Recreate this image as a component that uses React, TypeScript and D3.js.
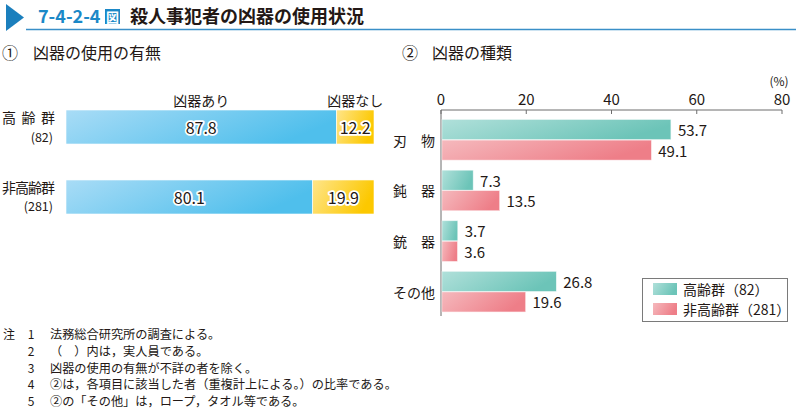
import React from "react";
import * as d3 from "d3";

const groups1 = ["高齢群", "非高齢群"];
const counts1 = ["(82)", "(281)"];
const useYes = [87.8, 80.1];
const useNo = [12.2, 19.9];

const categories2 = ["刃　物", "鈍　器", "銃　器", "その他"];
const elderly = [53.7, 7.3, 3.7, 26.8];
const nonElderly = [49.1, 13.5, 3.6, 19.6];
const ticks2 = [0, 20, 40, 60, 80];
const legendLabels = ["高齢群（82）", "非高齢群（281）"];

const notes = [
  "法務総合研究所の調査による。",
  "（　）内は，実人員である。",
  "凶器の使用の有無が不詳の者を除く。",
  "②は，各項目に該当した者（重複計上による。）の比率である。",
  "②の「その他」は，ロープ，タオル等である。",
];

const FONT = "'Noto Sans CJK JP', 'Noto Sans', sans-serif";

export default function App() {
  const x1 = d3.scaleLinear().domain([0, 100]).range([66, 374]);
  const y1 = d3.scaleBand().domain(groups1).range([89, 235]).paddingInner(0.514).paddingOuter(0.3);

  const x2 = d3.scaleLinear().domain([0, 80]).range([441, 782]);
  const y2 = d3.scaleBand().domain(categories2).range([114.5, 317]).paddingInner(0.2).paddingOuter(0.1);
  const sub = d3.scaleBand().domain(["e", "n"]).range([0, y2.bandwidth()]).paddingInner(0.03);

  const halo = (t: string, x: number, y: number, key: string) => (
    <g key={key}>
      <text x={x} y={y} textAnchor="middle" dominantBaseline="central" fontSize={16}
        stroke="#fff" strokeWidth={3.5} strokeLinejoin="round" fill="#fff">{t}</text>
      <text x={x} y={y} textAnchor="middle" dominantBaseline="central" fontSize={16} fill="#231815">{t}</text>
    </g>
  );

  return (
    <svg width={796} height={416} style={{ position: "absolute", left: 0, top: 0, fontFamily: FONT }}>
      <defs>
        <linearGradient id="gBlue" x1="0" y1="0" x2="1" y2="0.3">
          <stop offset="0" stopColor="#a9dcf6" />
          <stop offset="1" stopColor="#4fbfec" />
        </linearGradient>
        <linearGradient id="gYellow" x1="0" y1="0" x2="1" y2="0.3">
          <stop offset="0" stopColor="#ffe58a" />
          <stop offset="1" stopColor="#fcc800" />
        </linearGradient>
        <linearGradient id="gTeal" x1="0" y1="0" x2="1" y2="0.3">
          <stop offset="0" stopColor="#b0e0da" />
          <stop offset="1" stopColor="#6cc4b8" />
        </linearGradient>
        <linearGradient id="gPink" x1="0" y1="0" x2="1" y2="0.3">
          <stop offset="0" stopColor="#f5b9bd" />
          <stop offset="1" stopColor="#ee7e88" />
        </linearGradient>
      </defs>
      <rect width={796} height={416} fill="#fff" />

      {/* Title */}
      <polygon points="6,4 24,17.5 6,31" fill="#1b7fbd" />
      <line x1={26} y1={29.5} x2={796} y2={29.5} stroke="#3a8fc8" strokeWidth={1.5} />
      <text x={38} y={23} fontSize={18} fontWeight="bold" fill="#1b88c7">7-4-2-4</text>
      <rect x={105} y={9} width={15} height={15} fill="#1b88c7" />
      <text x={112.5} y={21.5} fontSize={13} fontWeight="bold" fill="#fff" textAnchor="middle">図</text>
      <text x={130} y={23} fontSize={18} fontWeight="bold" fill="#231815">殺人事犯者の凶器の使用状況</text>

      {/* Section headings */}
      <text x={2} y={59} fontSize={16} fill="#231815">①</text>
      <text x={33} y={59} fontSize={16} fill="#231815">凶器の使用の有無</text>
      <text x={402} y={59} fontSize={16} fill="#231815">②</text>
      <text x={432} y={59} fontSize={16} fill="#231815">凶器の種類</text>

      {/* Left chart */}
      <text x={(x1(0) + x1(useYes[0])) / 2} y={100} dominantBaseline="central" fontSize={14} textAnchor="middle" fill="#231815">凶器あり</text>
      <text x={(x1(useYes[0]) + x1(100)) / 2} y={100} dominantBaseline="central" fontSize={14} textAnchor="middle" fill="#231815">凶器なし</text>
      {groups1.map((g, i) => {
        const y = y1(g)!;
        const h = y1.bandwidth();
        return (
          <g key={g}>
            <rect x={x1(0)} y={y} width={x1(useYes[i]) - x1(0)} height={h} fill="url(#gBlue)" stroke="#ffffff" strokeWidth={0.6} />
            <rect x={x1(useYes[i])} y={y} width={x1(useYes[i] + useNo[i]) - x1(useYes[i])} height={h} fill="url(#gYellow)" stroke="#ffffff" strokeWidth={0.6} />
            {halo(String(useYes[i]), (x1(0) + x1(useYes[i])) / 2, y + h / 2, "a")}
            {halo(String(useNo[i]), (x1(useYes[i]) + x1(100)) / 2, y + h / 2, "b")}
            <text x={2} y={y + h / 2 - 10} dominantBaseline="central" fontSize={14} textLength={53} lengthAdjust="spacing" fill="#231815">{g}</text>
            <text x={53} y={y + h / 2 + 9} dominantBaseline="central" fontSize={12.5} textAnchor="end" fill="#231815">{counts1[i]}</text>
          </g>
        );
      })}

      {/* Right chart axis */}
      <line x1={x2(0)} y1={110} x2={x2(80)} y2={110} stroke="#6d6d6d" strokeWidth={1} />
      <line x1={x2(0)} y1={110} x2={x2(0)} y2={316} stroke="#6d6d6d" strokeWidth={1} />
      {ticks2.map((t) => (
        <g key={t}>
          <line x1={x2(t)} y1={110} x2={x2(t)} y2={114} stroke="#6d6d6d" strokeWidth={1} />
          <text x={x2(t)} y={105} fontSize={15} textAnchor="middle" fill="#231815">{t}</text>
        </g>
      ))}
      <text x={x2(80) - 3} y={86} fontSize={12} textAnchor="middle" fill="#231815">(%)</text>

      {categories2.map((c, i) => {
        const y = y2(c)!;
        const h = sub.bandwidth();
        const ye = y + sub("e")!;
        const yn = y + sub("n")!;
        return (
          <g key={c}>
            <rect x={x2(0) + 1} y={ye} width={x2(elderly[i]) - x2(0)} height={h} fill="url(#gTeal)" stroke="#e9f6f4" strokeWidth={0.5} />
            <rect x={x2(0) + 1} y={yn} width={x2(nonElderly[i]) - x2(0)} height={h} fill="url(#gPink)" stroke="#fbe6e8" strokeWidth={0.5} />
            <text x={x2(elderly[i]) + 8} y={ye + h / 2} dominantBaseline="central" fontSize={15} fill="#231815">{elderly[i]}</text>
            <text x={x2(nonElderly[i]) + 8} y={yn + h / 2} dominantBaseline="central" fontSize={15} fill="#231815">{nonElderly[i]}</text>
            <text x={435} y={y + y2.bandwidth() / 2} dominantBaseline="central" fontSize={14} textAnchor="end" fill="#231815">{c}</text>
          </g>
        );
      })}

      {/* Legend */}
      <rect x={642.5} y={278.5} width={145} height={43} fill="#fff" stroke="#7a7a7a" strokeWidth={1} />
      {legendLabels.map((l, i) => (
        <g key={l}>
          <rect x={653} y={283 + i * 20} width={24} height={12} fill={i === 0 ? "url(#gTeal)" : "url(#gPink)"} />
          <text x={683} y={289 + i * 20} dominantBaseline="central" fontSize={14} fill="#231815">{l}</text>
        </g>
      ))}

      {/* Notes */}
      <text x={3} y={339} fontSize={12} fill="#231815">注</text>
      {notes.map((n, i) => (
        <g key={i}>
          <text x={31} y={339 + i * 16.8} fontSize={12} textAnchor="middle" fill="#231815">{i + 1}</text>
          <text x={50} y={339 + i * 16.8} fontSize={12.2} fill="#231815">{n}</text>
        </g>
      ))}
    </svg>
  );
}
